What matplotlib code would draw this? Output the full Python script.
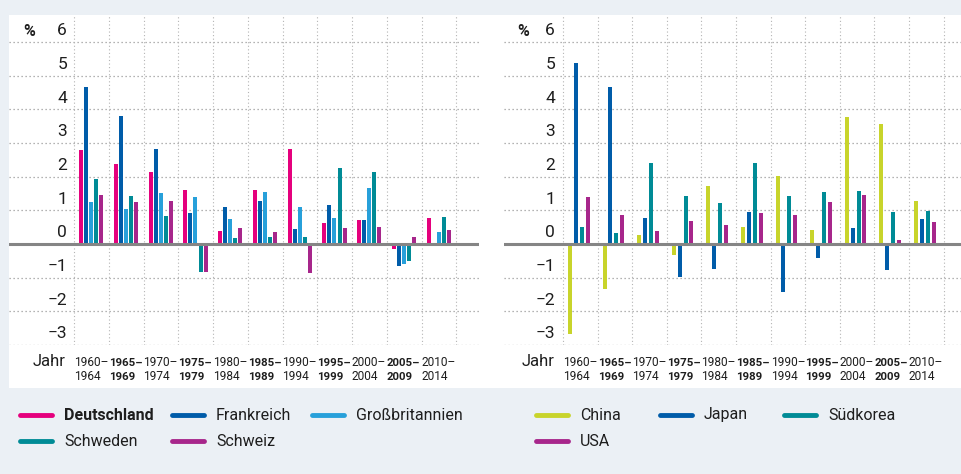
import matplotlib
matplotlib.use("Agg")
import matplotlib.pyplot as plt
from matplotlib.patches import Rectangle
from matplotlib.lines import Line2D

plt.rcParams["font.family"] = ["Liberation Sans Narrow", "Roboto", "DejaVu Sans"]

# periods (two-line labels)
periods_top = ["1960–", "1965–", "1970–", "1975–", "1980–", "1985–",
               "1990–", "1995–", "2000–", "2005–", "2010–"]
periods_bot = ["1964", "1969", "1974", "1979", "1984", "1989",
               "1994", "1999", "2004", "2009", "2014"]

# left panel: Europe
deutschland = [2.78, 2.39, 2.15, 1.61, 0.39, 1.61, 2.81, 0.63, 0.72, -0.15, 0.78]
frankreich = [4.66, 3.79, 2.81, 0.93, 1.10, 1.28, 0.45, 1.16, 0.72, -0.66, -0.04]
grossbritannien = [1.25, 1.04, 1.50, 1.40, 0.75, 1.55, 1.10, 0.78, 1.67, -0.60, 0.36]
schweden = [1.94, 1.43, 0.84, -0.84, 0.18, 0.21, 0.21, 2.27, 2.15, -0.51, 0.81]
schweiz = [1.46, 1.25, 1.28, -0.84, 0.48, 0.36, -0.87, 0.48, 0.51, 0.21, 0.42]

# right panel: other countries
china = [-2.66, -1.34, 0.27, -0.33, 1.73, 0.51, 2.03, 0.42, 3.76, 3.55, 1.28]
japan = [5.37, 4.66, 0.78, -0.99, -0.75, 0.96, -1.43, -0.42, 0.48, -0.78, 0.75]
suedkorea = [0.51, 0.33, 2.42, 1.43, 1.22, 2.42, 1.43, 1.55, 1.58, 0.96, 0.99]
usa = [1.40, 0.87, 0.39, 0.69, 0.57, 0.93, 0.87, 1.25, 1.46, 0.12, 0.66]

yticks = [6, 5, 4, 3, 2, 1, 0, -1, -2, -3]

PINK = "#e5007d"
DBLUE = "#005ca9"
LBLUE = "#27a0da"
TEAL = "#008b96"
PURPLE = "#a7268b"
LIME = "#c8d42b"
BG = "#ebf0f5"
INK = "#1e1e1e"

left_series = [("Deutschland", deutschland, PINK),
               ("Frankreich", frankreich, DBLUE),
               ("Großbritannien", grossbritannien, LBLUE),
               ("Schweden", schweden, TEAL),
               ("Schweiz", schweiz, PURPLE)]
right_series = [("China", china, LIME),
                ("Japan", japan, DBLUE),
                ("Südkorea", suedkorea, TEAL),
                ("USA", usa, PURPLE)]

W, H = 962, 474
fig = plt.figure(figsize=(W / 100, H / 100), dpi=100)
fig.patch.set_facecolor(BG)


def px(x, y):
    return x / W, 1 - y / H


# white panel behind both charts
fig.patches.append(Rectangle(px(9, 388), (W - 9) / W, (388 - 15) / H,
                             transform=fig.transFigure, facecolor="white",
                             edgecolor="none", zorder=-5))

YTOP = 6 + 27 / 33.67


def panel(x0, x1, first_line, group_w, series, pitch):
    n = len(periods_top)
    ax = fig.add_axes([x0 / W, 1 - 345 / H, (x1 - x0) / W, 330 / H])
    ax.set_facecolor("none")
    ax.set_zorder(1)
    ax.set_xlim((x0 - first_line) / group_w, (x1 - first_line) / group_w)
    ax.set_ylim(-3, YTOP)
    ax.axis("off")
    for v in yticks:
        if v == 0:
            continue
        ax.axhline(v, color="#9a9a9a", lw=0.9, dashes=(1, 2.2), zorder=1)
    for k in range(n + 1):
        ax.axvline(k, ymin=0, ymax=1, color="#b4b4b4", lw=0.8,
                   dashes=(1, 2.2), zorder=1)
    w = 4 / group_w
    off0 = 7 / group_w
    for j, (name, vals, col) in enumerate(series):
        xs = [i + off0 + j * pitch / group_w for i in range(n)]
        ax.bar(xs, vals, width=w, color=col, zorder=2, linewidth=0)
    ax.axhline(0, color="#858585", lw=2.2, zorder=3)
    return ax


def labels(ax, xlab, pct_x, jahr_x, first_line, group_w):
    for v in yticks:
        s = str(v).replace("-", "−")
        ax.text((xlab - first_line) / group_w, v + 0.33, s, ha="right",
                va="center", fontsize=12.5, color=INK)
    fig.text(*px(pct_x, 31), "%", fontsize=11.5, ha="left", va="center",
             color=INK, fontweight="bold")
    fig.text(*px(jahr_x, 362), "Jahr", fontsize=12, ha="left", va="center",
             color=INK)
    for i in range(len(periods_top)):
        bold = i % 2 == 1
        fw = "bold" if bold else "normal"
        fs = 8.2 if bold else 8.6
        xx = first_line + i * group_w
        fig.text(*px(xx, 363), periods_top[i], fontsize=fs, ha="left",
                 va="center", fontweight=fw, color=INK)
        fig.text(*px(xx, 377), periods_bot[i], fontsize=fs, ha="left",
                 va="center", fontweight=fw, color=INK)


axl = panel(9, 479, 74, 34.75, left_series, 5.1)
labels(axl, 67, 23, 33, 74, 34.75)
axr = panel(504, 962, 563, 34.6, right_series, 5.9)
labels(axr, 555, 517, 522, 563, 34.6)


def legend_item(x, y, name, col, bold=False):
    fig.add_artist(Line2D([x / W, (x + 32) / W], [1 - y / H, 1 - y / H],
                          transform=fig.transFigure, color=col, lw=3.5,
                          solid_capstyle="round"))
    fig.text(*px(x + 44, y), name, fontsize=11.5, ha="left", va="center",
             color=INK, fontweight="bold" if bold else "normal")


legend_item(20, 415, "Deutschland", PINK, bold=True)
legend_item(172, 415, "Frankreich", DBLUE)
legend_item(312, 415, "Großbritannien", LBLUE)
legend_item(20, 441, "Schweden", TEAL)
legend_item(172, 441, "Schweiz", PURPLE)
legend_item(536, 415, "China", LIME)
legend_item(660, 415, "Japan", DBLUE)
legend_item(784, 415, "Südkorea", TEAL)
legend_item(536, 441, "USA", PURPLE)

fig.savefig("out.png", dpi=100, facecolor=BG)
